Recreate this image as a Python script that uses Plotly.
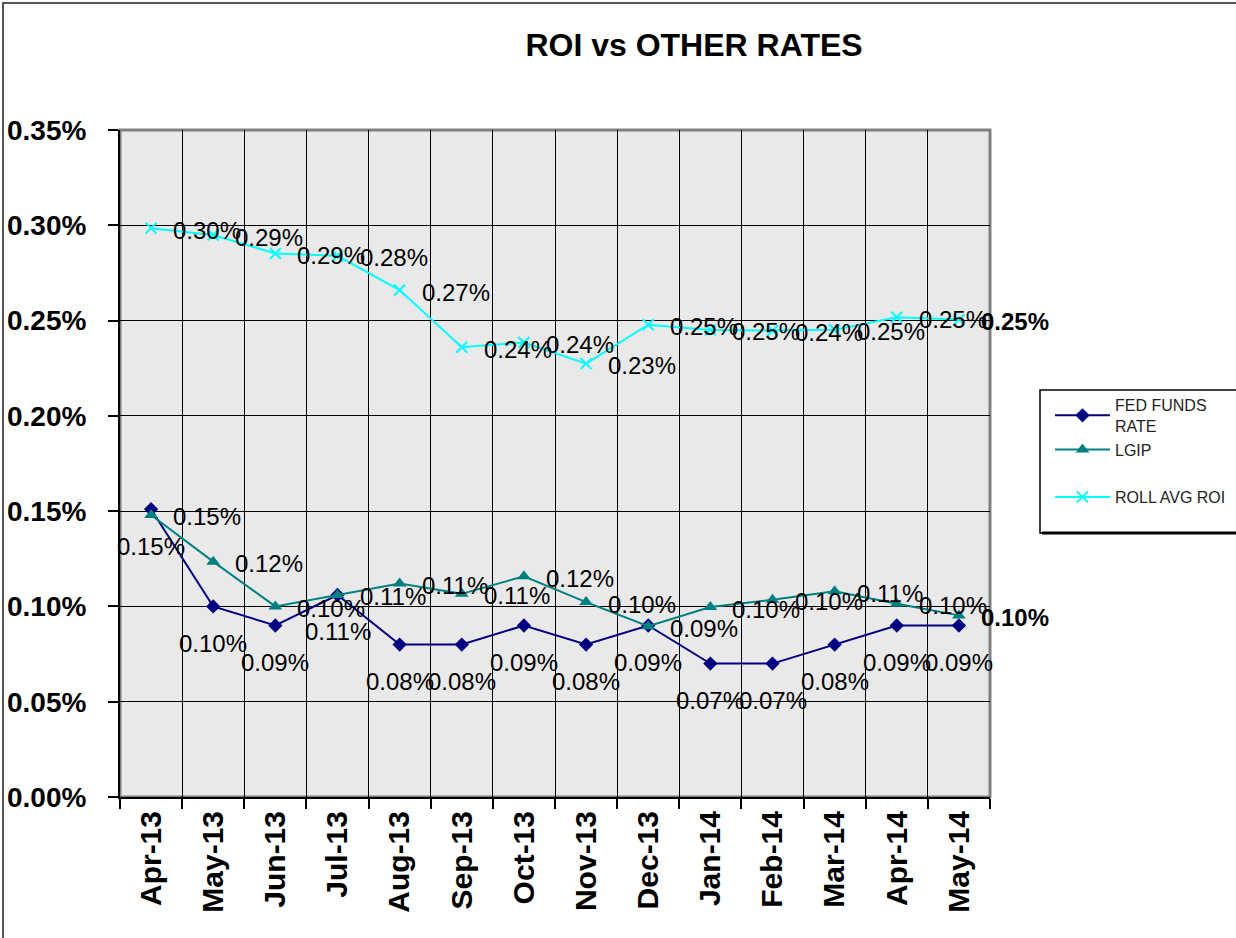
import plotly.graph_objects as go

# ---- data (values in percent) ----
months = ["Apr-13", "May-13", "Jun-13", "Jul-13", "Aug-13", "Sep-13", "Oct-13",
          "Nov-13", "Dec-13", "Jan-14", "Feb-14", "Mar-14", "Apr-14", "May-14"]
fed_funds = [0.151, 0.100, 0.090, 0.106, 0.080, 0.080, 0.090,
             0.080, 0.090, 0.070, 0.070, 0.080, 0.090, 0.090]
lgip = [0.148, 0.1235, 0.100, 0.106, 0.112, 0.1066, 0.1158,
        0.1023, 0.0896, 0.0997, 0.1035, 0.108, 0.1014, 0.0953]
roll_avg_roi = [0.2985, 0.2949, 0.2852, 0.2840, 0.2660, 0.2360, 0.2385,
                0.2274, 0.2478, 0.2451, 0.2448, 0.2452, 0.2517, 0.2505]
y_ticks = [0.00, 0.05, 0.10, 0.15, 0.20, 0.25, 0.30, 0.35]
y_tick_text = [f"{v:.2f}%" for v in y_ticks]

W, H = 1236, 938
L, R, T, B = 120, 990, 130, 797   # plot area in pixels


def px_x(p):
    return (p - L) / (R - L)


def px_y(p):
    return (B - p) / (B - T)


FONT = "Arial, Liberation Sans, sans-serif"

fig = go.Figure()
fig.add_trace(go.Scatter(
    x=months, y=fed_funds, mode="lines+markers", name="FED FUNDS<br>RATE",
    line=dict(color="#000080", width=2),
    marker=dict(symbol="diamond", size=11, color="#000080"),
    legendgroup="a", legend="legend"))
fig.add_trace(go.Scatter(
    x=months, y=lgip, mode="lines+markers", name="LGIP",
    line=dict(color="#008080", width=2),
    marker=dict(symbol="triangle-up", size=12, color="#008080"),
    legendgroup="b", legend="legend"))
fig.add_trace(go.Scatter(
    x=months, y=roll_avg_roi, mode="lines+markers", name="ROLL AVG ROI",
    line=dict(color="#00FFFF", width=2),
    marker=dict(symbol="x-thin", size=11, color="#00FFFF",
                line=dict(color="#00FFFF", width=2)),
    legendgroup="c", legend="legend2"))

annotations = []
n = len(months)
for series, right in ((roll_avg_roi, True), (lgip, True), (fed_funds, False)):
    for i, (m, v) in enumerate(zip(months, series)):
        bold = right and i == n - 1
        if right:
            annotations.append(dict(
                x=m, y=v, xref="x", yref="y", text=f"{v:.2f}%", showarrow=False,
                xanchor="left", yanchor="middle", xshift=20, yshift=-2,
                font=dict(family=FONT, size=24, color="black",
                          weight="bold" if bold else "normal")))
        else:
            annotations.append(dict(
                x=m, y=v, xref="x", yref="y", text=f"{v:.2f}%", showarrow=False,
                xanchor="center", yanchor="middle", yshift=-37,
                font=dict(family=FONT, size=24, color="black")))

shapes = [
    # outer chart border
    dict(type="rect", xref="paper", yref="paper",
         x0=px_x(3), x1=px_x(1250), y0=px_y(950), y1=px_y(3),
         line=dict(color="#555555", width=2), layer="below"),
    # plot area border
    dict(type="rect", xref="paper", yref="paper", x0=0, x1=1, y0=0, y1=1,
         line=dict(color="#808080", width=3), layer="below"),
    # legend box
    dict(type="rect", xref="paper", yref="paper",
         x0=px_x(1040), x1=px_x(1250), y0=px_y(533), y1=px_y(390),
         line=dict(color="black", width=1.5), fillcolor="white", layer="below"),
    dict(type="line", xref="paper", yref="paper",
         x0=px_x(1042), x1=px_x(1250), y0=px_y(533), y1=px_y(533),
         line=dict(color="black", width=3)),
]

legend_common = dict(xanchor="left", yanchor="top", bgcolor="rgba(0,0,0,0)",
                     borderwidth=0, itemwidth=55, traceorder="normal",
                     font=dict(family=FONT, size=16, color="#222222"))

fig.update_layout(
    width=W, height=H,
    margin=dict(l=L, r=W - R, t=T, b=H - B, pad=0, autoexpand=False),
    paper_bgcolor="white",
    plot_bgcolor="#e9e9e9",
    font=dict(family=FONT, color="black"),
    title=dict(text="ROI vs OTHER RATES", x=694 / W, xref="container",
               xanchor="center", y=1 - 45 / H, yref="container", yanchor="middle",
               font=dict(family=FONT, size=32, color="black", weight="bold")),
    showlegend=True,
    legend=dict(x=px_x(1050), y=px_y(388), tracegroupgap=18, **legend_common),
    legend2=dict(x=px_x(1050), y=px_y(480), **legend_common),
    annotations=annotations,
    shapes=shapes,
)

fig.update_xaxes(
    type="category", tickson="boundaries", tickangle=-90, automargin=False,
    showgrid=True, gridcolor="black", gridwidth=1,
    showline=True, linecolor="black", linewidth=2,
    ticks="outside", ticklen=10, tickwidth=2, tickcolor="black",
    tickfont=dict(family=FONT, size=30, color="black", weight="bold"),
    range=[-0.5, n - 0.5], zeroline=False)

fig.update_yaxes(
    range=[0, 0.35], tickvals=y_ticks, ticktext=y_tick_text, automargin=False,
    showgrid=True, gridcolor="black", gridwidth=1,
    showline=True, linecolor="black", linewidth=2,
    ticks="outside", ticklen=10, tickwidth=2, tickcolor="black",
    ticklabelstandoff=16,
    tickfont=dict(family=FONT, size=28, color="black", weight="bold"),
    zeroline=False)

fig.write_html("out.html", config={"displayModeBar": False},
               post_script="document.body.style.margin='0px';")
